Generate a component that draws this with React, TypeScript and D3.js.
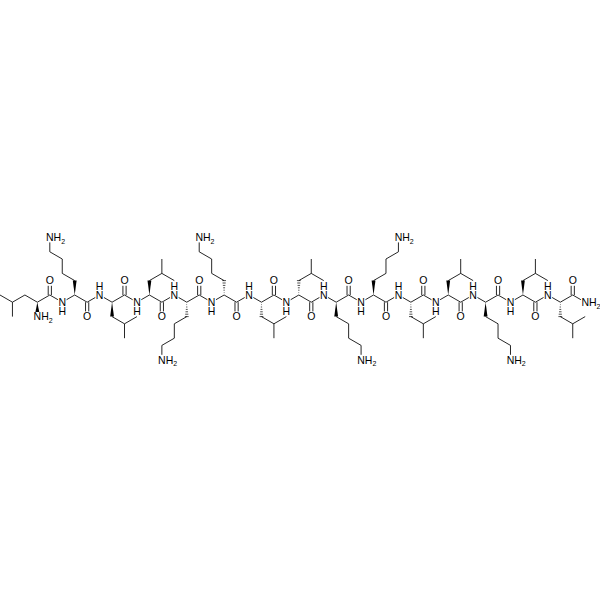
import * as d3 from "d3";

// one letter code of the peptide, N terminus first
const residues = ["L", "K", "L", "L", "K", "K", "L", "L", "K", "K", "L", "L", "K", "L", "L"];
// drawn stereo bond of each alpha carbon
const stereo = ["wedge", "wedge", "wedge", "wedge", "hash", "hash", "hash", "hash", "wedge", "wedge", "hash", "wedge", "wedge", "wedge", "hash"];
// which way the side chain leans
const lean = [1, -1, 1, 1, -1, -1, 1, 1, 1, 1, 1, 1, 1, 1, 1];

// side chains in lattice steps from the alpha carbon
const lysChain = [[0, 4], [1, 6], [1, 10], [2, 12], [2, 16]];
const leuChain = [[0, 4], [1, 6], [1, 10]];
const leuBranch = [[1, 6], [2, 4]];
// first leucine runs to the left of its alpha carbon
const firstChain = [[3, 2], [2, 0], [1, 2], [1, 6]];
const firstBranch = [[1, 2], [0, 0]];
const firstAmine = [3, 6];

type P = [number, number];

const x = d3.scaleLinear().domain([0, 47]).range([0, 585.2]);
const y = d3.scaleLinear().domain([0, 2]).range([295, 302.2]);
const pt = (c: number, r: number): P => [x(c), y(r)];

const FONT = "'Liberation Sans', Arial, sans-serif";
const path = d3.line();

function trim(a: P, b: P, ta: number, tb: number): [P, P] {
  const dx = b[0] - a[0];
  const dy = b[1] - a[1];
  const len = Math.hypot(dx, dy);
  return [
    [a[0] + (dx / len) * ta, a[1] + (dy / len) * ta],
    [b[0] - (dx / len) * tb, b[1] - (dy / len) * tb],
  ];
}

function Amine({ at }: { at: P }) {
  return (
    <text x={at[0] - 3.8} y={at[1] + 3.8} fontSize={10.5} fontFamily={FONT} fill="#000">
      NH
      <tspan fontSize={7} dy={2.5}>2</tspan>
    </text>
  );
}

function Label({ at, text }: { at: P; text: string }) {
  return (
    <text x={at[0]} y={at[1] + 3.8} fontSize={10.5} fontFamily={FONT} fill="#000" textAnchor="middle">
      {text}
    </text>
  );
}

// amide N with its H stacked above or below, kept as one text
function Amide({ at, up }: { at: P; up: boolean }) {
  return (
    <text x={at[0]} y={at[1] + 3.8} fontSize={10.5} fontFamily={FONT} fill="#000" textAnchor="middle">
      N
      <tspan x={at[0]} dy={up ? -9 : 9}>H</tspan>
    </text>
  );
}

function Bond({ a, b, ta = 0, tb = 0 }: { a: P; b: P; ta?: number; tb?: number }) {
  return <path d={path(trim(a, b, ta, tb)) as string} fill="none" stroke="#000" strokeWidth={0.85} />;
}

function DoubleBond({ a, b, tb }: { a: P; b: P; tb: number }) {
  const [p, q] = trim(a, b, 0, tb);
  const off = 1.6;
  return (
    <g>
      <path d={path([[p[0] - off, p[1]], [q[0] - off, q[1]]]) as string} stroke="#000" strokeWidth={0.85} />
      <path d={path([[p[0] + off, p[1]], [q[0] + off, q[1]]]) as string} stroke="#000" strokeWidth={0.85} />
    </g>
  );
}

function Stereo({ a, b, kind, tb = 0 }: { a: P; b: P; kind: string; tb?: number }) {
  const [p, q] = trim(a, b, 0, tb);
  const half = 1.9;
  if (kind === "wedge") {
    const tri: P[] = [p, [q[0] - half, q[1]], [q[0] + half, q[1]], p];
    return <path d={path(tri) as string} fill="#000" />;
  }
  const steps = d3.range(1, 7).map((i) => i / 6);
  return (
    <g>
      {steps.map((t) => {
        const my = p[1] + (q[1] - p[1]) * t;
        const w = half * t;
        return <path key={t} d={path([[p[0] - w, my], [p[0] + w, my]]) as string} stroke="#000" strokeWidth={0.7} />;
      })}
    </g>
  );
}

export default function App() {
  const parts: React.ReactNode[] = [];
  residues.forEach((res, k) => {
    const c = 3 + k * 3;
    const odd = k % 2 === 1; // odd residues sit on the upper row, side chain up
    const r = odd ? 0 : 2;
    const s = odd ? -1 : 1;
    const alpha = pt(c, r);
    const carbon = pt(c + 1, odd ? 2 : 0);
    const key = "r" + k;

    // backbone out of this residue
    parts.push(<Bond key={key + "ac"} a={alpha} b={carbon} />);
    parts.push(<DoubleBond key={key + "co"} a={carbon} b={pt(c + 1, odd ? 6 : -4)} tb={5.2} />);
    parts.push(<Label key={key + "o"} at={pt(c + 1, odd ? 6 : -4)} text="O" />);

    if (k < residues.length - 1) {
      const nitrogen = pt(c + 2, odd ? 0 : 2);
      parts.push(<Bond key={key + "cn"} a={carbon} b={nitrogen} tb={5} />);
      parts.push(<Bond key={key + "na"} a={nitrogen} b={pt(c + 3, odd ? 2 : 0)} ta={5} />);
      parts.push(<Amide key={key + "n"} at={nitrogen} up={odd} />);
    } else {
      parts.push(<Bond key={key + "cn"} a={carbon} b={pt(c + 2, odd ? 0 : 2)} tb={5} />);
      parts.push(<Amine key={key + "n"} at={pt(c + 2, odd ? 0 : 2)} />);
    }

    if (k === 0) {
      d3.pairs(firstChain).forEach(([a, b], i) => {
        parts.push(<Bond key={key + "s" + i} a={pt(a[0], a[1])} b={pt(b[0], b[1])} />);
      });
      parts.push(<Bond key={key + "b"} a={pt(firstBranch[0][0], firstBranch[0][1])} b={pt(firstBranch[1][0], firstBranch[1][1])} />);
      parts.push(<Stereo key={key + "w"} a={alpha} b={pt(firstAmine[0], firstAmine[1])} kind={stereo[k]} tb={4.5} />);
      parts.push(<Amine key={key + "nh2"} at={pt(firstAmine[0], firstAmine[1])} />);
      return;
    }

    const d = lean[k];
    const place = (step: number[]) => pt(c + d * step[0], r + s * step[1]);
    const chain = res === "K" ? lysChain : leuChain;
    parts.push(<Stereo key={key + "w"} a={alpha} b={place(chain[0])} kind={stereo[k]} />);
    d3.pairs(chain).forEach(([a, b], i) => {
      const last = res === "K" && i === chain.length - 2;
      parts.push(<Bond key={key + "s" + i} a={place(a)} b={place(b)} tb={last ? 5 : 0} />);
    });
    if (res === "K") {
      parts.push(<Amine key={key + "nh2"} at={place(chain[chain.length - 1])} />);
    } else {
      parts.push(<Bond key={key + "b"} a={place(leuBranch[0])} b={place(leuBranch[1])} />);
    }
  });

  return (
    <svg width={600} height={600} style={{ position: "absolute", left: 0, top: 0, background: "#fff" }}>
      {parts}
    </svg>
  );
}
